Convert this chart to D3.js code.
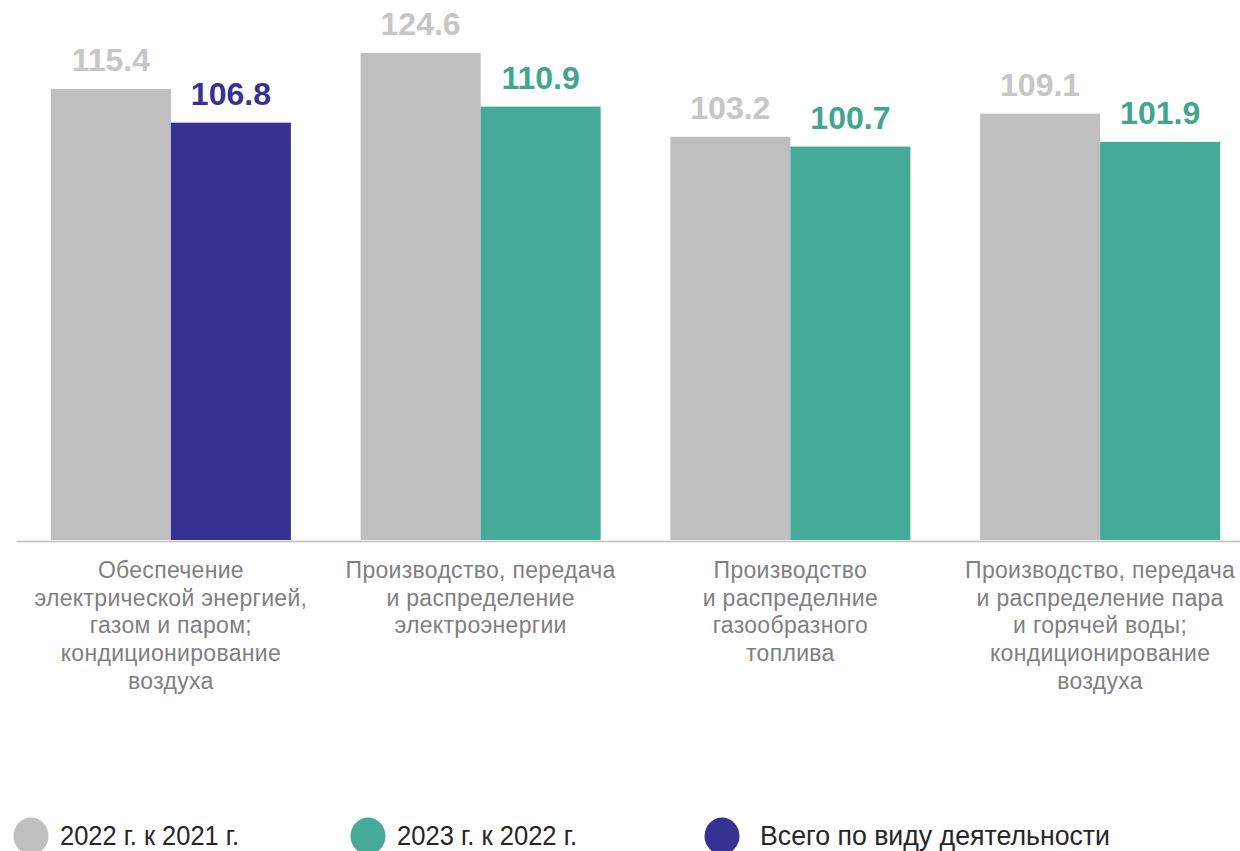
<!DOCTYPE html>
<html>
<head>
<meta charset="utf-8">
<script src="https://cdn.jsdelivr.net/npm/d3@7"></script>
<style>
  body { margin: 0; background: #fff; }
  svg { display: block; font-family: Arial, "Liberation Sans", sans-serif; }
</style>
</head>
<body>
<svg width="1240" height="851"></svg>
<script>
// categories (multi-line labels)
var categories = [
  ["Обеспечение", "электрической энергией,", "газом и паром;", "кондиционирование", "воздуха"],
  ["Производство, передача", "и распределение", "электроэнергии"],
  ["Производство", "и распределние", "газообразного", "топлива"],
  ["Производство, передача", "и распределение пара", "и горячей воды;", "кондиционирование", "воздуха"]
];
var values2022 = [115.4, 124.6, 103.2, 109.1];
var values2023 = [106.8, 110.9, 100.7, 101.9];
var isTotal = [true, false, false, false];
var legendLabels = ["2022 г. к 2021 г.", "2023 г. к 2022 г.", "Всего по виду деятельности"];

var GRAY = "#bfbfbf", TEAL = "#45aa97", NAVY = "#363293";

var svg = d3.select("svg");
var baseY = 541;

var x = d3.scaleBand()
  .domain(d3.range(categories.length))
  .range([16, 1255])
  .paddingInner(0.225)
  .paddingOuter(0.1125);

var sub = d3.scaleBand()
  .domain(["a", "b"])
  .range([0, x.bandwidth()]);

var y = d3.scaleLinear()
  .domain([0, 130])
  .range([baseY, baseY - 130 * 3.917]);

var rows = categories.map(function(c, i) {
  return [
    { key: "a", v: values2022[i], fill: GRAY, label: "#c6c6c6" },
    { key: "b", v: values2023[i], fill: isTotal[i] ? NAVY : TEAL, label: isTotal[i] ? NAVY : "#41a590" }
  ];
});

var groups = svg.append("g").selectAll("g")
  .data(rows)
  .enter().append("g")
    .attr("transform", function(d, i) { return "translate(" + x(i) + ",0)"; });

groups.selectAll("rect")
  .data(function(d) { return d; })
  .enter().append("rect")
    .attr("x", function(d) { return sub(d.key); })
    .attr("width", sub.bandwidth())
    .attr("y", function(d) { return y(d.v); })
    .attr("height", function(d) { return y(0) - y(d.v) - 1; })
    .style("fill", function(d) { return d.fill; });

groups.selectAll("text")
  .data(function(d) { return d; })
  .enter().append("text")
    .attr("x", function(d) { return sub(d.key) + sub.bandwidth() / 2; })
    .attr("y", function(d) { return y(d.v) - 18; })
    .attr("text-anchor", "middle")
    .style("font-size", "32px")
    .style("font-weight", "bold")
    .style("fill", function(d) { return d.label; })
    .text(function(d) { return d.v.toFixed(1); });

// axis line
svg.append("line")
  .attr("x1", 17).attr("x2", 1240)
  .attr("y1", baseY + 0.5).attr("y2", baseY + 0.5)
  .style("stroke", "#bfbfbf")
  .style("stroke-width", 1.5);

// category labels
var cat = svg.append("g").selectAll("text")
  .data(categories)
  .enter().append("text")
    .attr("text-anchor", "middle")
    .style("font-size", "23px")
    .style("letter-spacing", "0.3px")
    .style("fill", "#7f7f7f");

cat.selectAll("tspan")
  .data(function(d, i) { return d.map(function(t) { return { t: t, i: i }; }); })
  .enter().append("tspan")
    .attr("x", function(d) { return x(d.i) + x.bandwidth() / 2; })
    .attr("y", function(d, j) { return 578 + j * 27.7; })
    .text(function(d) { return d.t; });

// legend
var legendColors = [GRAY, TEAL, NAVY];
var legendX = [31, 368, 722];
var legendW = [179, 180, 350];

var leg = svg.append("g").selectAll("g")
  .data(legendLabels)
  .enter().append("g")
    .attr("transform", function(d, i) { return "translate(" + legendX[i] + ",0)"; });

leg.append("ellipse")
  .attr("cx", 0).attr("cy", 836)
  .attr("rx", 17.5).attr("ry", 18.5)
  .style("fill", function(d, i) { return legendColors[i]; });

leg.append("text")
  .attr("x", function(d, i) { return i == 2 ? 38 : 29; })
  .attr("y", 845)
  .attr("textLength", function(d, i) { return legendW[i]; })
  .attr("lengthAdjust", "spacingAndGlyphs")
  .style("font-size", "27px")
  .style("fill", "#262626")
  .text(function(d) { return d; });
</script>
</body>
</html>
